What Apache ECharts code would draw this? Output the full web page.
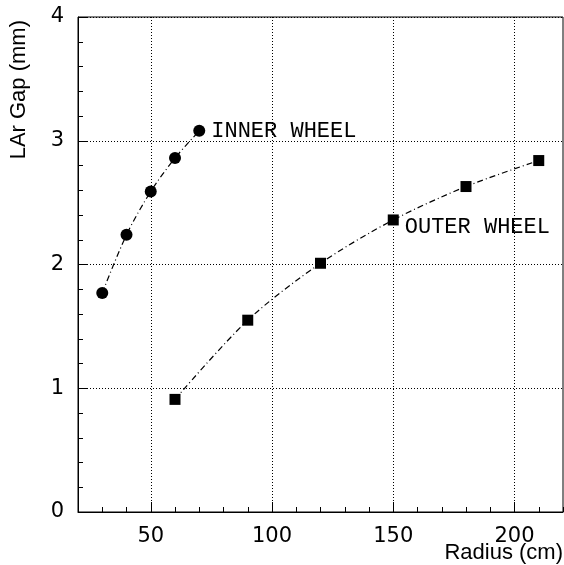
<!DOCTYPE html>
<html>
<head>
<meta charset="utf-8">
<script src="https://cdn.jsdelivr.net/npm/echarts@6/dist/echarts.min.js"></script>
<style>
  html, body { margin: 0; padding: 0; background: #fff; }
  #chart { width: 564px; height: 565px; }
</style>
</head>
<body>
<div id="chart"></div>
<script>
// Liquid-argon gap versus radius for the two wheels
const innerRadius = [30, 40, 50, 60, 70];
const innerGap = [1.77, 2.24, 2.59, 2.86, 3.08];
const outerRadius = [60, 90, 120, 150, 180, 210];
const outerGap = [0.91, 1.55, 2.01, 2.36, 2.63, 2.84];

// Axis ranges and labelled ticks
const xRange = [20, 220];
const xMajorTicks = [50, 100, 150, 200];
const yRange = [0, 4];

// Curve annotations and the point each one is attached to
const innerLabel = 'INNER WHEEL';
const outerLabel = 'OUTER WHEEL';
const innerLabelIndex = 4;
const outerLabelIndex = 3;

const xTitle = 'Radius (cm)';
const yTitle = 'LAr Gap (mm)';

const chart = echarts.init(document.getElementById('chart'), null, { renderer: 'canvas' });

const tickFont = { fontFamily: 'DejaVu Sans', fontSize: 21, color: '#000' };
const noteFont = { fontFamily: 'Liberation Mono', fontSize: 22, color: '#000' };
const dashDot = [6, 3, 1, 3];

function buildPoints(xs, ys, labelIndex, text, extra) {
  return xs.map((x, i) => {
    const item = { value: [x, ys[i]] };
    if (i === labelIndex) {
      item.label = Object.assign({ show: true, formatter: text, position: 'right' }, noteFont, extra);
    }
    return item;
  });
}

const option = {
  animation: false,
  backgroundColor: '#fff',
  grid: {
    left: 78, right: 1, top: 17, bottom: 53,
    show: true, borderColor: '#000', borderWidth: 1,
    containLabel: false, outerBoundsMode: 'none'
  },
  xAxis: [
    {
      // fine ticks every 10 cm
      type: 'value', min: xRange[0], max: xRange[1], interval: 10,
      axisLine: { show: true, lineStyle: { color: '#000', width: 1 } },
      axisTick: { show: true, inside: true, length: 5, lineStyle: { color: '#000' } },
      axisLabel: Object.assign({ customValues: xMajorTicks, margin: 14 }, tickFont),
      splitLine: { show: false }
    },
    {
      // labelled ticks with dotted grid lines
      type: 'value', min: xRange[0], max: xRange[1], position: 'bottom',
      axisLine: { show: false },
      axisTick: { show: true, inside: true, length: 10, customValues: xMajorTicks, lineStyle: { color: '#000' } },
      axisLabel: { show: false },
      splitLine: { show: true, lineStyle: { color: '#000', width: 1, type: [1, 2] } }
    }
  ],
  yAxis: {
    type: 'value', min: yRange[0], max: yRange[1], interval: 1,
    axisLine: { show: true, lineStyle: { color: '#000', width: 1 } },
    axisTick: { show: true, inside: true, length: 10, lineStyle: { color: '#000' } },
    minorTick: { show: true, splitNumber: 5, length: 5, lineStyle: { color: '#000' } },
    axisLabel: Object.assign({ margin: 14 }, tickFont),
    splitLine: { show: true, lineStyle: { color: '#000', width: 1, type: [1, 2] } }
  },
  series: [
    {
      name: innerLabel,
      type: 'line',
      xAxisIndex: 0,
      data: buildPoints(innerRadius, innerGap, innerLabelIndex, innerLabel, { distance: 6 }),
      smooth: 0.3,
      symbol: 'circle',
      symbolSize: 12,
      itemStyle: { color: '#000' },
      lineStyle: { color: '#000', width: 1.2, type: dashDot },
      z: 5
    },
    {
      name: outerLabel,
      type: 'line',
      xAxisIndex: 0,
      data: buildPoints(outerRadius, outerGap, outerLabelIndex, outerLabel, { distance: 6, offset: [0, 7] }),
      smooth: 0.3,
      symbol: 'rect',
      symbolSize: 11,
      itemStyle: { color: '#000' },
      lineStyle: { color: '#000', width: 1.2, type: dashDot },
      z: 5
    }
  ],
  graphic: [
    {
      type: 'text', x: 563, y: 553,
      style: { text: xTitle, fontFamily: 'Liberation Sans', fontSize: 22, fill: '#000', align: 'right', verticalAlign: 'middle' }
    },
    {
      type: 'text', x: 18.5, y: 20, rotation: Math.PI / 2,
      style: { text: yTitle, fontFamily: 'Liberation Sans', fontSize: 22, fill: '#000', align: 'right', verticalAlign: 'middle' }
    }
  ]
};

chart.setOption(option);
</script>
</body>
</html>
